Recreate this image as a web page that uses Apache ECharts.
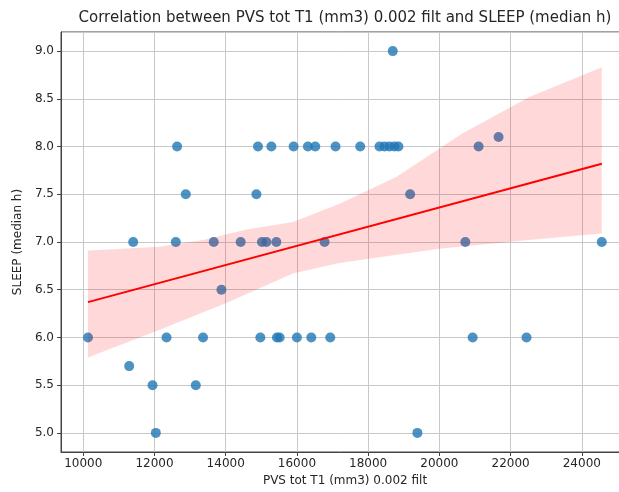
<!DOCTYPE html>
<html>
<head>
<meta charset="utf-8">
<script src="https://cdn.jsdelivr.net/npm/echarts@6/dist/echarts.min.js"></script>
<style>
    html, body { margin: 0; padding: 0; background: #fff; }
    #chart { width: 619px; height: 492px; }
</style>
</head>
<body>
<div id="chart"></div>
<script>
    // PVS volume (x) and median sleep (y) per subject
    const pvsVolume = [
        18691,
        21663,
        12635, 14906, 15282, 15907, 16308, 16515, 17085, 17777, 18318, 18458, 18598, 18738, 18850, 21102,
        12879, 14862, 19179,
        11402, 12599, 13664, 14421, 15018, 15141, 15422, 16776, 20729, 24561,
        13880,
        10132, 12338, 13364, 14973, 15439, 15514, 16000, 16403, 16936, 20934, 22447,
        11290,
        11946, 13160,
        12038, 19383
    ];
    const sleepHours = [
        9.0,
        8.1,
        8.0, 8.0, 8.0, 8.0, 8.0, 8.0, 8.0, 8.0, 8.0, 8.0, 8.0, 8.0, 8.0, 8.0,
        7.5, 7.5, 7.5,
        7.0, 7.0, 7.0, 7.0, 7.0, 7.0, 7.0, 7.0, 7.0, 7.0,
        6.5,
        6.0, 6.0, 6.0, 6.0, 6.0, 6.0, 6.0, 6.0, 6.0, 6.0, 6.0,
        5.7,
        5.5, 5.5,
        5.0, 5.0
    ];

    // regression line and its confidence band
    const fitX = [10132, 24561];
    const fitY = [6.37, 7.82];
    const upperX = [10132, 12150, 13364, 14581, 15887, 17197, 18786, 20653, 22523, 24561];
    const upperY = [6.91, 6.95, 7.02, 7.13, 7.21, 7.40, 7.68, 8.14, 8.52, 8.83];
    const lowerX = [10132, 12150, 14020, 15887, 17197, 20000, 22523, 24561];
    const lowerY = [5.79, 6.08, 6.36, 6.67, 6.78, 6.93, 7.02, 7.09];

    const chart = echarts.init(document.getElementById('chart'));
    const textColor = '#262626';
    const font = 'DejaVu Sans';

    const bandPoints = upperX.map((x, i) => [x, upperY[i]])
        .concat(lowerX.map((x, i) => [x, lowerY[i]]).reverse());

    const option = {
        animation: false,
        backgroundColor: '#fff',
        title: {
            text: 'Correlation between PVS tot T1 (mm3) 0.002 filt and SLEEP (median h)',
            left: 345,
            top: 11,
            textAlign: 'center',
            padding: 0,
            textStyle: { fontFamily: font, fontSize: 15, fontWeight: 'normal', color: textColor }
        },
        grid: {
            left: 61, width: 568, top: 32, bottom: 40,
            outerBoundsMode: 'none',
            containLabel: false,
            show: true, borderColor: '#444', borderWidth: 1, backgroundColor: 'transparent'
        },
        xAxis: {
            type: 'value',
            min: 9375,
            max: 25325,
            splitNumber: 8,
            name: 'PVS tot T1 (mm3) 0.002 filt',
            nameLocation: 'middle',
            nameGap: 21,
            nameTextStyle: { fontFamily: font, fontSize: 12, color: textColor },
            axisLine: { show: true, onZero: false, lineStyle: { color: '#444', width: 1 } },
            axisTick: { show: true, length: 4, lineStyle: { color: '#444' } },
            axisLabel: {
                fontFamily: font, fontSize: 12, color: textColor, margin: 6,
                showMinLabel: false, showMaxLabel: false,
                formatter: v => String(v)
            },
            splitLine: { show: true, lineStyle: { color: '#c8c8c8', width: 1 } }
        },
        yAxis: {
            type: 'value',
            min: 4.8,
            max: 9.2,
            splitNumber: 9,
            name: 'SLEEP (median h)',
            nameLocation: 'middle',
            nameGap: 36,
            nameTextStyle: { fontFamily: font, fontSize: 12, color: textColor },
            axisLine: { show: true, onZero: false, lineStyle: { color: '#444', width: 1 } },
            axisTick: { show: true, length: 4, lineStyle: { color: '#444' } },
            axisLabel: {
                fontFamily: font, fontSize: 12, color: textColor, margin: 7,
                showMinLabel: false, showMaxLabel: false,
                formatter: v => v.toFixed(1)
            },
            splitLine: { show: true, lineStyle: { color: '#c8c8c8', width: 1 } }
        },
        series: [
            {
                type: 'scatter',
                z: 2,
                symbolSize: 10,
                itemStyle: { color: '#1f77b4', opacity: 0.8 },
                data: pvsVolume.map((x, i) => [x, sleepHours[i]])
            },
            {
                type: 'custom',
                z: 3,
                silent: true,
                data: [bandPoints[0]],
                renderItem: function (params, api) {
                    return {
                        type: 'polygon',
                        shape: { points: bandPoints.map(p => api.coord(p)) },
                        style: { fill: 'rgba(255,0,0,0.15)', stroke: null }
                    };
                }
            },
            {
                type: 'line',
                z: 4,
                symbol: 'none',
                lineStyle: { color: '#ff0000', width: 2 },
                data: fitX.map((x, i) => [x, fitY[i]])
            }
        ]
    };

    chart.setOption(option);
    window.addEventListener('resize', function () {
        chart.resize();
    });
</script>
</body>
</html>
